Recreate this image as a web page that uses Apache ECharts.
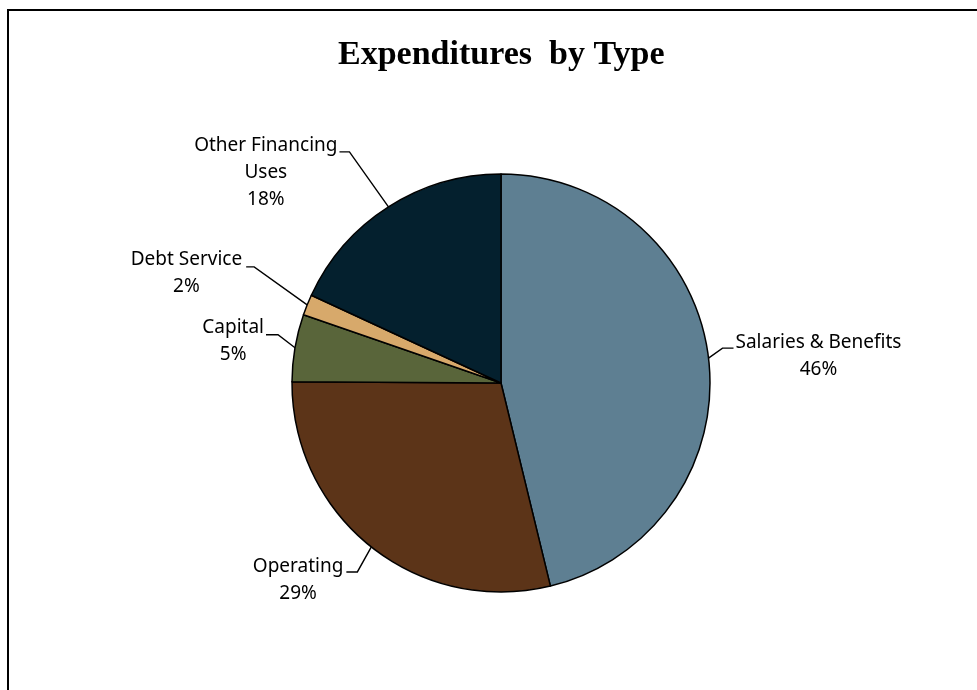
<!DOCTYPE html>
<html>
<head>
<meta charset="utf-8">
<script src="https://cdn.jsdelivr.net/npm/echarts@6/dist/echarts.min.js"></script>
<style>
html,body{margin:0;padding:0;background:#fff;}
#chart{width:977px;height:690px;}
</style>
</head>
<body>
<div id="chart"></div>
<script>
// ---- data ----
const titleText = 'Expenditures  by Type';
const categories = ['Salaries & Benefits', 'Operating', 'Capital', 'Debt Service', 'Other Financing Uses'];
const labelNames = ['Salaries & Benefits', 'Operating', 'Capital', 'Debt Service', 'Other Financing\nUses'];
const values = [46.2, 28.9, 5.2, 1.6, 18.1];
const colors = ['#5E7F92', '#5C3418', '#59653A', '#D7A96B', '#04202E'];

// ---- label leader geometry (style only) ----
const labelGeom = [
  { d1: [14, -10], d2: [25, -10], side: 'left', tx: 2, ty: -6 },
  { d1: [-14, 25], d2: [-25, 25], side: 'right', tx: -3, ty: -5 },
  { d1: [-17, -13], d2: [-29, -13], side: 'right', tx: -2, ty: -7 },
  { d1: [-53, -38], d2: [-61, -38], side: 'right', tx: -4, ty: -7 },
  { d1: [-39, -55], d2: [-49, -55], side: 'right', tx: -2, ty: -6 }
];
const LINE_H = 27;
const CENTER = [501, 383];
const RADIUS = 209;

const chart = echarts.init(document.getElementById('chart'));

function fallbackAnchor(i) {
  const total = values.reduce((a, b) => a + b, 0);
  let before = 0;
  for (let k = 0; k < i; k++) before += values[k];
  const mid = (before + values[i] / 2) / total * Math.PI * 2;
  return [CENTER[0] + RADIUS * Math.sin(mid), CENTER[1] - RADIUS * Math.cos(mid)];
}

const option = {
  backgroundColor: '#ffffff',
  animation: false,
  title: {
    text: titleText,
    left: 333,
    top: 33,
    textStyle: {
      fontFamily: 'Liberation Serif',
      fontWeight: 'bold',
      fontSize: 34,
      color: '#000000'
    }
  },
  graphic: [{
    type: 'rect',
    shape: { x: 8, y: 10, width: 1000, height: 720 },
    style: { fill: null, stroke: '#000000', lineWidth: 2 },
    silent: true
  }],
  series: [{
    type: 'pie',
    center: CENTER,
    radius: RADIUS,
    startAngle: 90,
    clockwise: true,
    avoidLabelOverlap: false,
    data: categories.map((c, i) => ({
      name: c,
      value: values[i],
      itemStyle: { color: colors[i] }
    })),
    itemStyle: { borderColor: '#000000', borderWidth: 1.5 },
    label: {
      show: true,
      position: 'outside',
      formatter: (p) => labelNames[p.dataIndex] + '\n' + Math.round(p.percent) + '%',
      fontFamily: 'Noto Sans',
      fontSize: 19,
      lineHeight: LINE_H,
      color: '#000000',
      align: 'center'
    },
    labelLine: {
      show: true,
      length: 15,
      length2: 10,
      lineStyle: { color: '#000000', width: 1.4 }
    },
    labelLayout: function (params) {
      const i = params.dataIndex;
      const g = labelGeom[i];
      const p0 = (params.labelLinePoints && params.labelLinePoints[0]) || fallbackAnchor(i);
      const p1 = [p0[0] + g.d1[0], p0[1] + g.d1[1]];
      const p2 = [p0[0] + g.d2[0], p0[1] + g.d2[1]];
      const w = params.labelRect.width;
      const x = g.side === 'left' ? p2[0] + g.tx + w / 2 : p2[0] + g.tx - w / 2;
      const y = p2[1] + g.ty - LINE_H / 2;
      return {
        x: x,
        y: y,
        align: 'center',
        verticalAlign: 'top',
        labelLinePoints: [p0, p1, p2]
      };
    },
    emphasis: { disabled: true }
  }]
};
chart.setOption(option);
</script>
</body>
</html>
